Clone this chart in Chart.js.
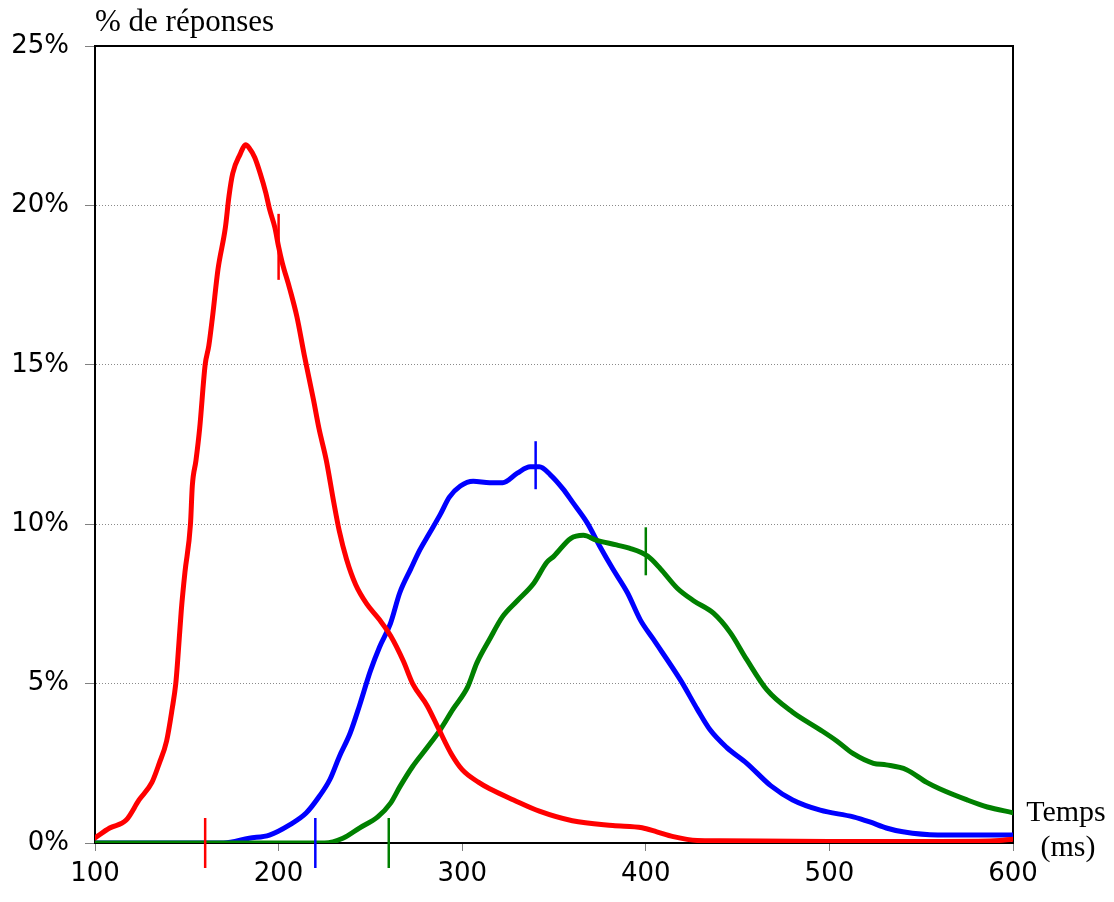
<!DOCTYPE html>
<html>
<head>
<meta charset="utf-8">
<script src="https://cdn.jsdelivr.net/npm/chart.js@4.4.1/dist/chart.umd.min.js"></script>
<style>
html,body{margin:0;padding:0;background:#fff;}
#wrap{width:1114px;height:902px;position:relative;}
</style>
</head>
<body>
<div id="wrap"><canvas id="c" width="1114" height="902"></canvas></div>
<script>
// ---- data (ms, % of responses) ----
const redX = [100,108,117,124,131,135,139,142,144,145,147,149,152,153,155,157,160,162,164,167,171,173,175,179,182,184,187,190,193,195,198,200,202,206,210,214,219,222,226,230,233,237,242,248,255,261,268,273,281,287,294,300,309,315,328,342,360,382,398,406,415,428,440,500,560,590,600];
const redY = [0.16,0.47,0.72,1.35,1.9,2.5,3.2,4.2,5.0,5.7,7.3,8.5,10.0,11.2,12.0,13.0,15.0,15.6,16.5,18.0,19.3,20.3,21.0,21.6,21.9,21.8,21.5,21.0,20.4,19.9,19.3,18.7,18.2,17.4,16.5,15.3,13.9,13.0,12.0,10.7,9.8,8.9,8.1,7.5,7.0,6.5,5.7,5.0,4.3,3.6,2.8,2.3,1.9,1.7,1.35,1.0,0.7,0.55,0.48,0.35,0.2,0.08,0.07,0.05,0.05,0.07,0.12];

const blueX = [100,170,184,195,206,215,222,228,233,239,244,250,255,261,266,272,277,282,288,293,299,306,315,322,330,337,342,348,355,360,368,375,382,390,397,404,419,428,435,444,455,468,480,495,513,522,531,540,559,600];
const blueY = [0,0,0.15,0.25,0.57,0.94,1.45,2.0,2.7,3.45,4.3,5.4,6.15,6.9,7.85,8.6,9.2,9.7,10.3,10.85,11.2,11.35,11.3,11.3,11.6,11.8,11.8,11.55,11.1,10.7,10.05,9.3,8.6,7.85,7.0,6.4,5.1,4.2,3.55,3.0,2.5,1.8,1.35,1.03,0.82,0.66,0.47,0.35,0.25,0.25];

const greenX = [100,225,235,244,254,261,266,273,281,288,295,303,308,315,322,330,339,346,350,359,366,373,384,391,401,408,417,426,437,446,455,466,480,495,504,513,524,531,542,553,560,575,586,600];
const greenY = [0,0,0.15,0.47,0.82,1.25,1.76,2.4,3.0,3.55,4.2,4.9,5.65,6.4,7.1,7.6,8.15,8.8,9.0,9.55,9.65,9.5,9.35,9.25,9.0,8.6,8.0,7.6,7.2,6.6,5.75,4.8,4.1,3.55,3.2,2.8,2.5,2.45,2.3,1.9,1.7,1.35,1.13,0.95];

// vertical markers (x in ms, y at marker centre in %)
const redMarkX = [160, 200];
const redMarkY = [0, 18.7];
const blueMarkX = [220, 340];
const blueMarkY = [0, 11.85];
const greenMarkX = [260, 400];
const greenMarkY = [0, 9.15];

const yTickValues = [0, 5, 10, 15, 20, 25];
const xTickValues = [100, 200, 300, 400, 500, 600];
const yAxisTitle = '% de réponses';
const xAxisTitle = ['Temps', '(ms)'];

// ---- helpers ----
const pts = (xs, ys) => xs.map((x, i) => ({x: x, y: ys[i]}));

const curve = (label, xs, ys, color, order) => ({
  label, data: pts(xs, ys), borderColor: color, backgroundColor: color,
  borderWidth: 5, pointRadius: 0, fill: false, order,
  cubicInterpolationMode: 'monotone', borderJoinStyle: 'round', borderCapStyle: 'round'
});

const marker = (label, xs, ys, color, radii) => ({
  label, data: pts(xs, ys), showLine: false, borderColor: color, backgroundColor: color,
  pointStyle: 'line', rotation: 90, pointRadius: radii, pointBorderWidth: 2.5,
  pointBorderColor: color, clip: false, order: -1
});

const framePlugin = {
  id: 'frame',
  beforeDatasetsDraw(chart) {
    const a = chart.chartArea, ctx = chart.ctx;
    ctx.save();
    ctx.strokeStyle = '#000';
    ctx.lineWidth = 2;
    ctx.strokeRect(a.left, a.top, a.right - a.left, a.bottom - a.top);
    ctx.restore();
  }
};

const textPlugin = {
  id: 'texts',
  afterDraw(chart) {
    const ctx = chart.ctx, a = chart.chartArea;
    ctx.save();
    ctx.fillStyle = '#000';
    ctx.font = '31px "Liberation Serif", "Times New Roman", serif';
    ctx.textBaseline = 'alphabetic';
    ctx.textAlign = 'left';
    ctx.fillText(yAxisTitle, a.left, 31);
    ctx.font = '30px "Liberation Serif", "Times New Roman", serif';
    ctx.textAlign = 'center';
    ctx.fillText(xAxisTitle[0], a.right + 53, 821);
    ctx.fillText(xAxisTitle[1], a.right + 55, 856);
    ctx.restore();
  }
};

const tickFont = {family: '"DejaVu Sans", Arial, sans-serif', size: 26};

new Chart(document.getElementById('c'), {
  type: 'line',
  data: {
    datasets: [
      marker('m-red', redMarkX, redMarkY, '#FF0000', [25, 33]),
      marker('m-blue', blueMarkX, blueMarkY, '#0000FF', [25, 24]),
      marker('m-green', greenMarkX, greenMarkY, '#008000', [25, 24]),
      curve('red', redX, redY, '#FF0000', 0),
      curve('green', greenX, greenY, '#008000', 1),
      curve('blue', blueX, blueY, '#0000FF', 2)
    ]
  },
  options: {
    responsive: false,
    animation: false,
    events: [],
    layout: {padding: {top: 46, right: 101, left: 0, bottom: 0}},
    plugins: {legend: {display: false}, tooltip: {enabled: false}, title: {display: false}},
    scales: {
      x: {
        type: 'linear', min: 100, max: 600,
        afterFit: s => { s.height = 59; },
        afterBuildTicks: s => { s.ticks = xTickValues.map(v => ({value: v})); },
        ticks: {color: '#000', font: tickFont, padding: 8, maxRotation: 0, autoSkip: false},
        grid: {drawOnChartArea: false, drawTicks: true, tickLength: 8, tickColor: '#808080', tickWidth: 1},
        border: {display: true, color: '#000', width: 2}
      },
      y: {
        type: 'linear', min: 0, max: 25,
        afterFit: s => { s.width = 95; },
        afterBuildTicks: s => { s.ticks = yTickValues.map(v => ({value: v})); },
        ticks: {color: '#000', font: tickFont, padding: 16, callback: v => v + '%', autoSkip: false},
        grid: {
          drawOnChartArea: true, drawTicks: true, tickLength: 10, tickColor: '#808080', tickWidth: 1,
          color: c => (c.tick && (c.tick.value === 0 || c.tick.value === 25)) ? 'rgba(0,0,0,0)' : '#8a8a8a',
          lineWidth: 1
        },
        border: {display: true, color: '#000', width: 2, dash: [1, 2]}
      }
    }
  },
  plugins: [framePlugin, textPlugin]
});
</script>
</body>
</html>
